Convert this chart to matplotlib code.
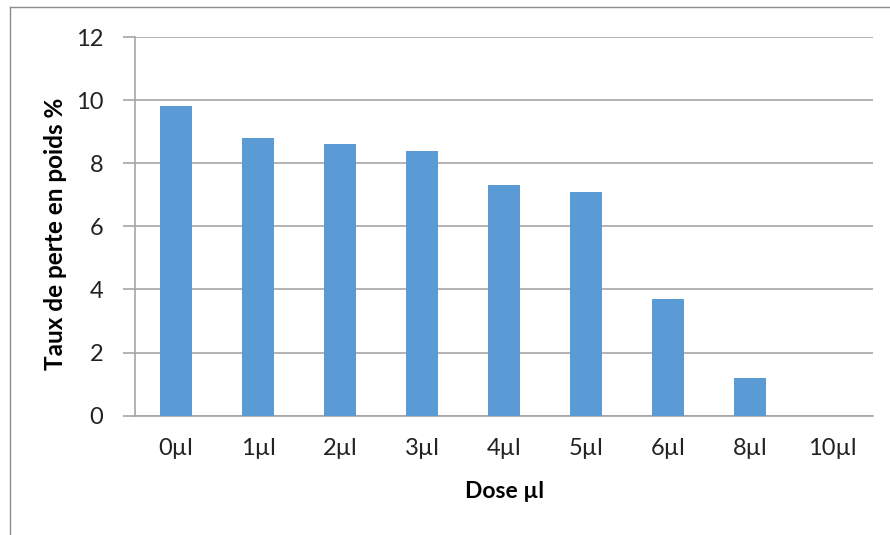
import matplotlib.pyplot as plt
from matplotlib.lines import Line2D

# ── Data ──────────────────────────────────────────────────────────────────────
doses = ["0µl", "1µl", "2µl", "3µl", "4µl", "5µl", "6µl", "8µl", "10µl"]
perte = [9.8, 8.8, 8.6, 8.4, 7.3, 7.1, 3.7, 1.2, 0.0]
y_ticks = [0, 2, 4, 6, 8, 10, 12]

BAR = "#5B9BD5"
GRID = "#A6A6A6"
plt.rcParams["font.family"] = ["Lato", "DejaVu Sans"]

fig = plt.figure(figsize=(8.9, 5.35), dpi=100)
ax = fig.add_axes([135 / 890, 1 - 415.7 / 535, 738 / 890, 378.7 / 535])

x = list(range(len(doses)))
ax.bar(x, perte, width=0.4, color=BAR, zorder=3)

ax.set_xlim(-0.5, len(doses) - 0.5)
ax.set_ylim(0, 12)
ax.set_yticks(y_ticks)
ax.set_xticks(x)
ax.set_xticklabels(doses)
ax.yaxis.grid(True, color=GRID, linewidth=1.2, zorder=0)

for side in ["top", "right"]:
    ax.spines[side].set_visible(False)
for side in ["left", "bottom"]:
    ax.spines[side].set_color(GRID)
    ax.spines[side].set_linewidth(1.2)

ax.tick_params(axis="y", length=9, width=1.2, color=GRID, labelsize=17,
               pad=14, labelcolor="#222222")
ax.tick_params(axis="x", length=0, labelsize=17, pad=16, labelcolor="#222222")

ax.set_xlabel("Dose µl", fontsize=16.5, fontweight="bold", labelpad=16)
ax.set_ylabel("Taux de perte en poids %", fontsize=17.5, fontweight="bold")
ax.yaxis.set_label_coords(-0.092, 0.481)

# outer frame (top and left edges of the chart area)
fig.add_artist(Line2D([10 / 890, 10 / 890], [0, 1 - 7 / 535], transform=fig.transFigure,
                      color="#8C8C8C", linewidth=1))
fig.add_artist(Line2D([10 / 890, 1], [1 - 7 / 535, 1 - 7 / 535], transform=fig.transFigure,
                      color="#8C8C8C", linewidth=1))

fig.savefig("out.png", dpi=100)
